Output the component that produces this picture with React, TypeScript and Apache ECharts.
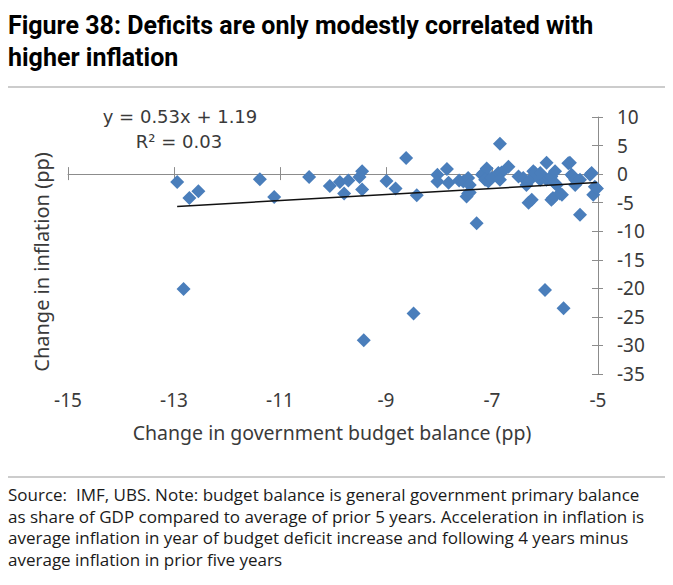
import React, { useEffect, useRef } from "react";
import * as echarts from "echarts";

const titleLines = [
  "Figure 38: Deficits are only modestly correlated with",
  "higher inflation",
];

const noteLines = [
  "Source:  IMF, UBS. Note: budget balance is general government primary balance",
  "as share of GDP compared to average of prior 5 years. Acceleration in inflation is",
  "average inflation in year of budget deficit increase and following 4 years minus",
  "average inflation in prior five years",
];

const xAxisTitle = "Change in government budget balance (pp)";
const yAxisTitle = "Change in inflation (pp)";
const equationLines = ["y = 0.53x + 1.19", "R\u00b2 = 0.03"];

// Change in government budget balance (pp)
const budgetBalance = [
  -12.94, -12.71, -12.54, -12.82, -11.38, -11.11, -10.45, -10.06, -9.87, -9.71,
  -9.79, -9.5, -9.45, -9.45, -9.42, -8.99, -8.82, -8.62, -8.48, -8.42,
  -8.03, -8.03, -7.85, -7.82, -7.62, -7.54, -7.45, -7.45, -7.42, -7.48,
  -7.42, -7.29, -7.19, -7.16, -7.1, -7.13, -7.07, -7.01, -6.85, -6.88,
  -6.82, -6.85, -6.69, -6.5, -6.41, -6.35, -6.31, -6.28, -6.25, -6.22,
  -6.19, -6.09, -6.09, -6.0, -5.97, -5.97, -5.91, -5.88, -5.85, -5.82,
  -5.81, -5.78, -5.72, -5.68, -5.65, -5.56, -5.53, -5.5, -5.47, -5.43,
  -5.43, -5.34, -5.34, -5.15, -5.12, -5.09, -5.06, -5.02, -5.88,
];

// Change in inflation (pp)
const inflationChange = [
  -1.4, -4.2, -3.0, -20.1, -0.9, -4.0, -0.5, -2.1, -1.4, -1.1,
  -3.4, -0.5, 0.5, -2.7, -29.1, -1.2, -2.5, 2.8, -24.4, -3.7,
  -0.1, -1.3, 0.9, -1.5, -1.1, -1.3, -0.7, -3.4, -1.9, -3.9,
  -3.2, -8.6, -0.1, 0.2, 1.0, -1.0, -1.3, -0.7, 5.3, 0.2,
  0.3, -1.0, 1.3, -0.4, -0.7, -1.9, -5.0, -1.0, -4.5, 0.5,
  0.2, 0.2, -1.0, -20.3, 2.0, -1.0, -0.7, -0.4, -4.2, -1.5,
  0.5, -1.9, -3.4, -3.6, -23.5, 1.9, 2.0, -0.1, -0.4, -1.9,
  -1.0, -7.1, -1.0, -0.1, 0.2, -3.6, -2.2, -2.5, -4.5,
];

const trendSlope = 0.53;
const trendIntercept = 1.19;
const trendRange = [-12.94, -5.02];

const xMin = -15;
const xMax = -5;
const xStep = 2;
const yMin = -35;
const yMax = 10;
const yStep = 5;

export default function App() {
  const ref = useRef<HTMLDivElement>(null);

  useEffect(() => {
    if (!ref.current) return;
    const chart = echarts.init(ref.current, undefined, { renderer: "svg" });

    const points = budgetBalance.map((x, i) => [x, inflationChange[i]]);
    const trend = trendRange.map((x) => [x, trendSlope * x + trendIntercept]);

    const axisGray = "#8c8c8c";
    const labelFont = "'Noto Sans', 'Open Sans', sans-serif";
    const textColor = "#3a3a3a";

    const baseX = {
      type: "value" as const,
      min: xMin,
      max: xMax,
      interval: xStep,
      splitLine: { show: false },
    };
    const baseY = {
      type: "value" as const,
      min: yMin,
      max: yMax,
      interval: yStep,
      position: "right" as const,
      splitLine: { show: false },
    };

    chart.setOption({
      animation: false,
      backgroundColor: "#ffffff",
      grid: { left: 68, right: 75, top: 117, bottom: 211, containLabel: false },
      xAxis: [
        {
          ...baseX,
          position: "bottom",
          axisLine: { show: true, onZero: true, lineStyle: { color: axisGray, width: 1 } },
          axisTick: { show: true, inside: true, length: 7, lineStyle: { color: axisGray } },
          axisLabel: { show: false },
        },
        {
          ...baseX,
          position: "bottom",
          axisLine: { show: false, onZero: true },
          axisTick: { show: true, inside: false, length: 6, lineStyle: { color: axisGray } },
          axisLabel: { show: false },
        },
        {
          ...baseX,
          position: "bottom",
          axisLine: { show: false, onZero: false },
          axisTick: { show: false },
          axisLabel: {
            show: true,
            margin: 16,
            fontSize: 19,
            fontFamily: labelFont,
            color: textColor,
          },
        },
      ],
      yAxis: [
        {
          ...baseY,
          axisLine: { show: true, onZero: false, lineStyle: { color: axisGray, width: 1 } },
          axisTick: { show: true, inside: true, length: 6, lineStyle: { color: axisGray } },
          axisLabel: {
            show: true,
            margin: 19,
            fontSize: 19,
            fontFamily: labelFont,
            color: textColor,
          },
        },
        {
          ...baseY,
          axisLine: { show: false, onZero: false },
          axisTick: { show: true, inside: false, length: 5, lineStyle: { color: axisGray } },
          axisLabel: { show: false },
        },
      ],
      series: [
        {
          type: "scatter",
          xAxisIndex: 0,
          yAxisIndex: 0,
          data: points,
          symbol: "diamond",
          symbolSize: 14,
          itemStyle: { color: "#4a7ebb", opacity: 1 },
          z: 2,
        },
        {
          type: "line",
          xAxisIndex: 0,
          yAxisIndex: 0,
          data: trend,
          symbol: "none",
          lineStyle: { color: "#111111", width: 1.5 },
          z: 3,
        },
      ],
      graphic: [
        {
          type: "text",
          x: 8,
          y: 9,
          style: {
            text: titleLines.join("\n"),
            font: "bold 25px 'Roboto', sans-serif",
            fill: "#000000",
            lineHeight: 32,
          },
        },
        {
          type: "rect",
          shape: { x: 8, y: 86, width: 657, height: 2 },
          style: { fill: "#cccccc" },
        },
        {
          type: "rect",
          shape: { x: 8, y: 476, width: 657, height: 2 },
          style: { fill: "#cccccc" },
        },
        {
          type: "text",
          x: 8,
          y: 484,
          style: {
            text: noteLines.join("\n"),
            font: "17px 'Open Sans', sans-serif",
            fill: "#1a1a1a",
            lineHeight: 21.5,
          },
        },
        {
          type: "text",
          x: 180,
          y: 116,
          style: {
            text: equationLines[0],
            font: "18px 'DejaVu Sans', sans-serif",
            fill: textColor,
            align: "center",
            verticalAlign: "middle",
          },
        },
        {
          type: "text",
          x: 179,
          y: 141,
          style: {
            text: equationLines[1],
            font: "18px 'DejaVu Sans', sans-serif",
            fill: textColor,
            align: "center",
            verticalAlign: "middle",
          },
        },
        {
          type: "text",
          x: 332,
          y: 432,
          style: {
            text: xAxisTitle,
            font: "19.5px " + labelFont,
            fill: textColor,
            align: "center",
            verticalAlign: "middle",
          },
        },
        {
          type: "text",
          x: 41,
          y: 262,
          rotation: Math.PI / 2,
          style: {
            text: yAxisTitle,
            font: "20px " + labelFont,
            fill: textColor,
            align: "center",
            verticalAlign: "middle",
          },
        },
      ],
    });

    return () => chart.dispose();
  }, []);

  return (
    <div
      ref={ref}
      style={{ position: "fixed", left: 0, top: 0, width: 673, height: 585, background: "#fff" }}
    />
  );
}
